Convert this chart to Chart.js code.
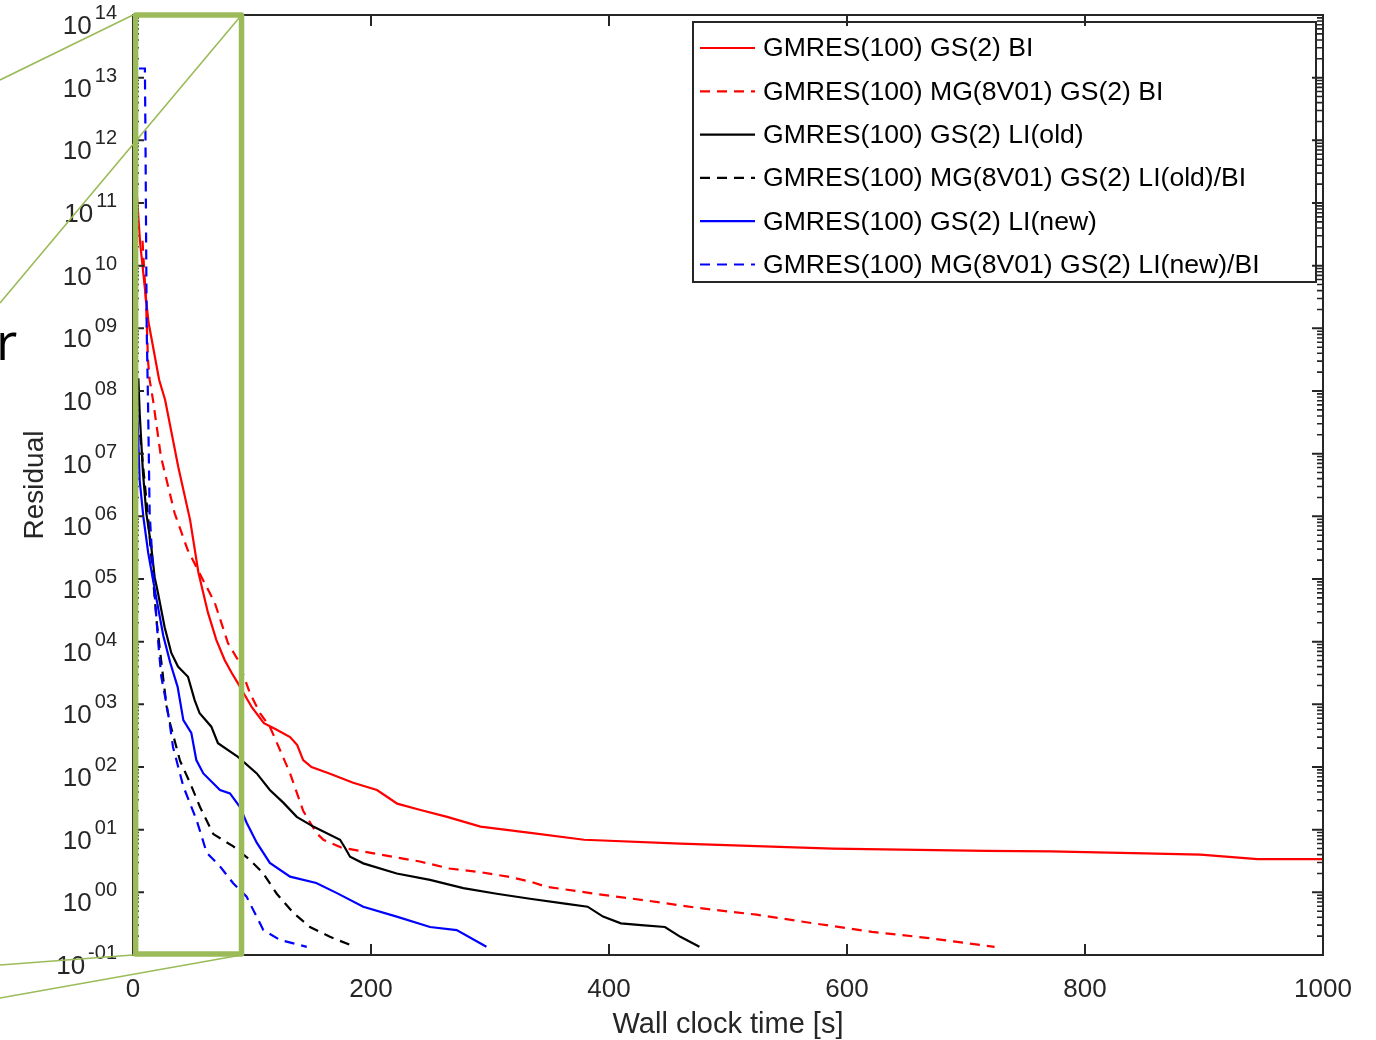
<!DOCTYPE html>
<html>
<head>
<meta charset="utf-8">
<script src="https://cdn.jsdelivr.net/npm/chart.js@4.4.1/dist/chart.umd.min.js"></script>
<style>
  html, body { margin: 0; padding: 0; background: #fff; }
</style>
</head>
<body>
<canvas id="chart" width="1376" height="1040"></canvas>
<script>
// ── Data (wall clock time [s] vs residual) ────────────────
const redSolidT = [0, 1, 3, 6, 13, 22, 27, 38, 48, 55, 63, 70, 77, 83, 88, 93, 100, 110, 120, 132,
  138, 143, 150, 165, 185, 205, 215, 222, 240, 264, 292, 334, 379, 460, 588, 717, 771, 850, 897, 945, 1000];
const redSolidR = [1.26e13, 2.0e12, 1.58e11, 2.3e10, 1.26e9, 1.5e8, 7.2e7, 6.2e6, 8.7e5, 1.26e5,
  2.9e4, 1.07e4, 5.1e3, 3.16e3, 2.2e3, 1.5e3, 890, 500, 400, 300,
  224, 129, 100, 79, 56, 43, 32, 26, 21, 16, 11.2, 8.9, 6.9, 6.0, 5.0, 4.6, 4.5, 4.2, 4.0, 3.4, 3.4];

const redDashT = [8, 11, 12.6, 14, 16.8, 23.5, 35, 46, 54.6, 68.7, 79.8, 88.2, 98.3, 107, 115, 124, 132, 143,
  154, 160, 175, 193, 241, 266, 292, 315, 334, 347, 395, 427, 476, 524, 572, 621, 669, 724];
const redDashR = [2.5e10, 2.5e9, 3.1e8, 1.5e8, 7.2e7, 8.9e6, 1.12e6, 2.9e5, 1.38e5, 4.2e4, 9.5e3, 5.1e3, 1.5e3,
  710, 440, 178, 79, 20, 8.9, 6.9, 5.2, 4.5, 3.1, 2.4, 2.1, 1.78, 1.48, 1.23, 0.91, 0.76, 0.56, 0.44, 0.32,
  0.234, 0.186, 0.135];

const blackSolidT = [4.5, 5.6, 8.4, 11.2, 15.4, 18.2, 21, 26.6, 32.2, 37.8, 46.2, 51.8, 56, 65.8, 71.4, 88.2,
  104, 115, 126.3, 137.6, 151.5, 174, 178, 182.4, 193.5, 221.6, 249.6, 277.6, 305.6, 333.6, 363, 382, 395,
  410, 427, 447, 460, 476];
const blackSolidR = [1.6e8, 4.5e7, 4.9e6, 1.12e6, 3.2e5, 1.07e5, 6.0e4, 1.7e4, 6.6e3, 4.0e3, 2.75e3, 1.17e3,
  720, 440, 240, 145, 79, 43, 27, 16, 11.2, 6.9, 5.2, 3.7, 2.9, 2.0, 1.58, 1.17, 0.95, 0.79, 0.66, 0.59, 0.41,
  0.32, 0.30, 0.28, 0.195, 0.135];

const blackDashT = [6, 9, 12.6, 16, 20, 25.5, 28.3, 31.1, 39.5, 47.9, 56.3, 67.5, 84.3, 98.3, 109.5, 120.8,
  134.7, 148.7, 165.5, 182.4];
const blackDashR = [2.0e7, 5.0e6, 1.0e6, 1.58e5, 2.0e4, 2.5e3, 910, 500, 126, 56, 23, 8.5, 5.4, 3.3, 2.0,
  0.95, 0.47, 0.28, 0.195, 0.145];

const blueSolidT = [0, 1, 3, 5.6, 8.7, 12.8, 19.9, 25.5, 31.3, 37.5, 42.3, 49, 53.2, 59.1, 73.1, 81.5, 89.9,
  95.5, 104, 115, 132, 154, 171, 193.5, 221.6, 249.6, 272, 297];
const blueSolidR = [2.0e12, 1e10, 1e8, 3.8e6, 9.8e5, 2.6e5, 4.6e4, 1.23e4, 4.6e3, 1.9e3, 560, 350, 129, 79,
  43, 38, 23, 12.9, 6.2, 2.95, 1.78, 1.41, 0.98, 0.59, 0.41, 0.28, 0.25, 0.135];

const blueDashT = [5, 10, 10.5, 11, 11.5, 12.6, 14, 16.8, 21, 23.8, 28, 30.8, 33.6, 42.3, 53.5, 61.9, 73.1,
  84, 95.5, 109.5, 123.5, 146];
const blueDashR = [1.4e13, 1.4e13, 1e12, 3.2e10, 1e9, 7.2e7, 1.12e6, 1.38e5, 1.07e4, 2.75e3, 1.05e3, 500,
  209, 49, 14.1, 4.3, 2.6, 1.41, 0.85, 0.25, 0.174, 0.135];

const seriesLabels = [
  'GMRES(100) GS(2) BI',
  'GMRES(100) MG(8V01) GS(2) BI',
  'GMRES(100) GS(2) LI(old)',
  'GMRES(100) MG(8V01) GS(2) LI(old)/BI',
  'GMRES(100) GS(2) LI(new)',
  'GMRES(100) MG(8V01) GS(2) LI(new)/BI'
];

// ── Ticks ─────────────────────────────────────────────────
const xTicks = [0, 200, 400, 600, 800, 1000];
const yTickValues = [1e-1, 1e0, 1e1, 1e2, 1e3, 1e4, 1e5, 1e6, 1e7, 1e8, 1e9, 1e10, 1e11, 1e12, 1e13, 1e14];
const yTickExps = ['-01', '00', '01', '02', '03', '04', '05', '06', '07', '08', '09', '10', '11', '12', '13', '14'];
const zoomWindow = [2.2, 91.2]; // time range of the green highlight box

const FONT = '"Liberation Sans", Arial, Helvetica, sans-serif';
const AXIS_COLOR = '#262626';
const DASH = [10, 7];

const pts = (ts, rs) => ts.map((t, i) => ({ x: t, y: rs[i] }));

const styles = [
  { color: '#ff0000', dash: [] },
  { color: '#ff0000', dash: DASH },
  { color: '#000000', dash: [] },
  { color: '#000000', dash: DASH },
  { color: '#0000ff', dash: [] },
  { color: '#0000ff', dash: DASH }
];
const series = [
  pts(redSolidT, redSolidR), pts(redDashT, redDashR),
  pts(blackSolidT, blackSolidR), pts(blackDashT, blackDashR),
  pts(blueSolidT, blueSolidR), pts(blueDashT, blueDashR)
];

const datasets = series.map((data, i) => ({
  label: seriesLabels[i],
  data,
  borderColor: styles[i].color,
  borderDash: styles[i].dash,
  borderWidth: 2.2,
  pointRadius: 0,
  fill: false,
  order: series.length - i // later series on top, as in MATLAB
}));

// ── Plugins ───────────────────────────────────────────────
const whiteBg = {
  id: 'whiteBg',
  beforeDraw(chart) {
    const { ctx, width, height } = chart;
    ctx.save();
    ctx.fillStyle = '#fff';
    ctx.fillRect(0, 0, width, height);
    ctx.restore();
  }
};

const matlabFrame = {
  id: 'matlabFrame',
  afterDraw(chart) {
    const { ctx, chartArea: a, scales: { x, y } } = chart;
    ctx.save();

    // legend box
    const lg = { x: 693, y: 22, w: 623, h: 260, row: 43.3 };
    ctx.fillStyle = '#fff';
    ctx.fillRect(lg.x, lg.y, lg.w, lg.h);
    ctx.strokeStyle = AXIS_COLOR;
    ctx.lineWidth = 2;
    ctx.strokeRect(lg.x, lg.y, lg.w, lg.h);
    ctx.font = `26.6px ${FONT}`;
    ctx.textBaseline = 'middle';
    ctx.textAlign = 'left';
    chart.data.datasets.forEach((ds, i) => {
      const cy = lg.y + 26 + i * lg.row;
      ctx.beginPath();
      ctx.setLineDash(ds.borderDash);
      ctx.strokeStyle = ds.borderColor;
      ctx.lineWidth = 2.2;
      ctx.moveTo(lg.x + 7, cy);
      ctx.lineTo(lg.x + 62, cy);
      ctx.stroke();
      ctx.setLineDash([]);
      ctx.fillStyle = '#000';
      ctx.fillText(ds.label, lg.x + 70, cy + 1);
    });

    // axes box + ticks (inward)
    ctx.strokeStyle = AXIS_COLOR;
    ctx.lineWidth = 2;
    ctx.strokeRect(a.left, a.top, a.right - a.left, a.bottom - a.top);
    ctx.beginPath();
    xTicks.forEach(v => {
      const px = x.getPixelForValue(v);
      ctx.moveTo(px, a.bottom); ctx.lineTo(px, a.bottom - 11);
      ctx.moveTo(px, a.top); ctx.lineTo(px, a.top + 11);
    });
    yTickValues.forEach(v => {
      const py = y.getPixelForValue(v);
      ctx.moveTo(a.left, py); ctx.lineTo(a.left + 11, py);
      ctx.moveTo(a.right, py); ctx.lineTo(a.right - 11, py);
    });
    ctx.stroke();
    ctx.beginPath();
    ctx.lineWidth = 1.6;
    yTickValues.slice(0, -1).forEach(v => {
      for (let m = 2; m <= 9; m++) {
        const py = y.getPixelForValue(v * m);
        ctx.moveTo(a.left, py); ctx.lineTo(a.left + 6, py);
        ctx.moveTo(a.right, py); ctx.lineTo(a.right - 6, py);
      }
    });
    ctx.stroke();

    // tick labels
    ctx.fillStyle = AXIS_COLOR;
    ctx.textBaseline = 'alphabetic';
    ctx.font = `26px ${FONT}`;
    ctx.textAlign = 'center';
    xTicks.forEach(v => ctx.fillText(String(v), x.getPixelForValue(v), 997));
    yTickValues.forEach((v, i) => {
      const py = y.getPixelForValue(v);
      const labRight = a.left - 16;
      ctx.font = `20px ${FONT}`;
      ctx.textAlign = 'right';
      ctx.fillText(yTickExps[i], labRight, py + 4);
      const supW = ctx.measureText(yTickExps[i]).width;
      ctx.font = `26px ${FONT}`;
      ctx.fillText('10', labRight - supW - 3, py + 19);
    });

    // axis titles
    ctx.font = `29px ${FONT}`;
    ctx.textAlign = 'center';
    ctx.fillText('Wall clock time [s]', (a.left + a.right) / 2, 1033);
    ctx.font = `28px ${FONT}`;
    ctx.save();
    ctx.translate(43, (a.top + a.bottom) / 2);
    ctx.rotate(-Math.PI / 2);
    ctx.fillText('Residual', 0, 0);
    ctx.restore();

    // green highlight box with connector lines
    const gx1 = x.getPixelForValue(zoomWindow[0]);
    const gx2 = x.getPixelForValue(zoomWindow[1]);
    ctx.strokeStyle = '#9bbb59';
    ctx.lineWidth = 1.6;
    ctx.beginPath();
    ctx.moveTo(a.left, a.top); ctx.lineTo(0, 80);
    ctx.moveTo(gx2, a.top); ctx.lineTo(0, 303);
    ctx.moveTo(a.left, a.bottom); ctx.lineTo(0, 965);
    ctx.moveTo(gx2, a.bottom); ctx.lineTo(0, 998);
    ctx.stroke();
    ctx.lineWidth = 5.5;
    ctx.lineJoin = 'round';
    ctx.strokeRect(gx1, a.top, gx2 - gx1, a.bottom - a.top - 1);

    // cut-off text at the left edge
    ctx.fillStyle = '#000';
    ctx.font = '52px "Open Sans", sans-serif';
    ctx.textAlign = 'left';
    ctx.fillText('r', -4, 360);

    ctx.restore();
  }
};

// ── Chart ─────────────────────────────────────────────────
new Chart(document.getElementById('chart'), {
  type: 'line',
  data: { datasets },
  options: {
    responsive: false,
    animation: false,
    devicePixelRatio: 1,
    layout: { padding: { left: 133, right: 53, top: 15, bottom: 85 } },
    scales: {
      x: { type: 'linear', min: 0, max: 1000, display: false },
      y: { type: 'logarithmic', min: 0.1, max: 1e14, display: false }
    },
    elements: { line: { tension: 0 }, point: { radius: 0 } },
    plugins: { legend: { display: false }, tooltip: { enabled: false } }
  },
  plugins: [whiteBg, matlabFrame]
});
</script>
</body>
</html>
